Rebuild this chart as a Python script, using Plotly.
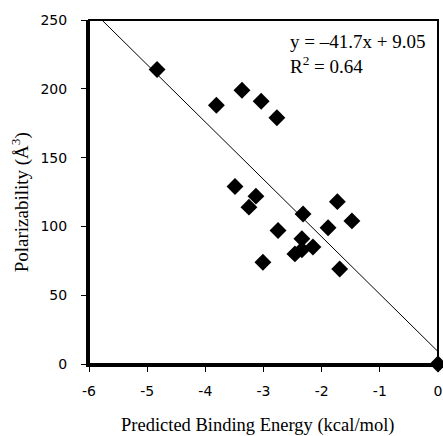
import plotly.graph_objects as go

binding_energy = [-4.83, -3.81, -3.37, -3.04, -2.77, -3.49, -3.13, -3.25, -2.75, -3.01,
                  -2.32, -2.34, -2.46, -2.34, -2.15, -1.89, -1.73, -1.48, -1.69, 0.0]
polarizability = [214, 188, 199, 191, 179, 129, 122, 114, 97, 74,
                  109, 91, 80, 83, 85, 99, 118, 104, 69, 0]

slope = -41.7
intercept = 9.05
fit_x = [(250 - intercept) / slope, 0.0]
fit_y = [slope * x + intercept for x in fit_x]

x_ticks = [-6, -5, -4, -3, -2, -1, 0]
y_ticks = [0, 50, 100, 150, 200, 250]

fig = go.Figure()
fig.add_trace(go.Scatter(x=fit_x, y=fit_y, mode="lines",
                         line=dict(color="black", width=1), showlegend=False,
                         hoverinfo="skip"))
fig.add_trace(go.Scatter(x=binding_energy, y=polarizability, mode="markers",
                         marker=dict(symbol="diamond", size=13, color="black"),
                         cliponaxis=False, showlegend=False))

tick_font = dict(family="DejaVu Sans, Arial, sans-serif", size=14, color="black")
serif = "Liberation Serif, Times New Roman, serif"

fig.update_xaxes(range=[-6, 0], tickvals=x_ticks, ticktext=[str(v) for v in x_ticks],
                 showgrid=False, zeroline=False, showline=True, linecolor="black",
                 linewidth=3, ticks="outside", ticklen=5, tickwidth=1, tickcolor="black",
                 tickfont=tick_font, automargin=False, ticklabelstandoff=7,
                 ticklabeloverflow="allow")
fig.update_yaxes(range=[0, 250], tickvals=y_ticks, ticktext=[str(v) for v in y_ticks],
                 showgrid=False, zeroline=False, showline=True, linecolor="black",
                 linewidth=3, ticks="outside", ticklen=5, tickwidth=1, tickcolor="black",
                 tickfont=tick_font, automargin=False, ticklabelstandoff=11,
                 ticklabeloverflow="allow")

fig.add_shape(type="rect", xref="paper", yref="paper", x0=0, y0=0, x1=1, y1=1,
              line=dict(color="black", width=2), layer="above")

# axis titles
fig.add_annotation(xref="paper", yref="paper", x=0.485, y=0, yshift=-61,
                   xanchor="center", yanchor="middle",
                   text="Predicted Binding Energy (kcal/mol)", showarrow=False,
                   font=dict(family=serif, size=18.5, color="black"))
fig.add_annotation(xref="paper", yref="paper", x=0, xshift=-69, y=0.47,
                   xanchor="center", yanchor="middle", textangle=-90,
                   text="Polarizability (Å<sup>3</sup>)", showarrow=False,
                   font=dict(family=serif, size=19, color="black"))

# fit equation
fig.add_annotation(xref="paper", yref="paper", x=0.57, y=0.937, xanchor="left", yanchor="middle",
                   text="y = –41.7x + 9.05", showarrow=False,
                   font=dict(family=serif, size=19, color="black"))
fig.add_annotation(xref="paper", yref="paper", x=0.57, y=0.868, xanchor="left", yanchor="middle",
                   text="R<sup>2</sup> = 0.64", showarrow=False,
                   font=dict(family=serif, size=19, color="black"))

fig.update_layout(width=443, height=436, margin=dict(l=89, r=5, t=20, b=72),
                  plot_bgcolor="white", paper_bgcolor="white")

# remove the page's default body margin so the figure fills the window exactly
fig.write_html("out.html", config={"displayModeBar": False},
               post_script="document.body.style.margin='0';document.body.style.overflow='hidden';")
